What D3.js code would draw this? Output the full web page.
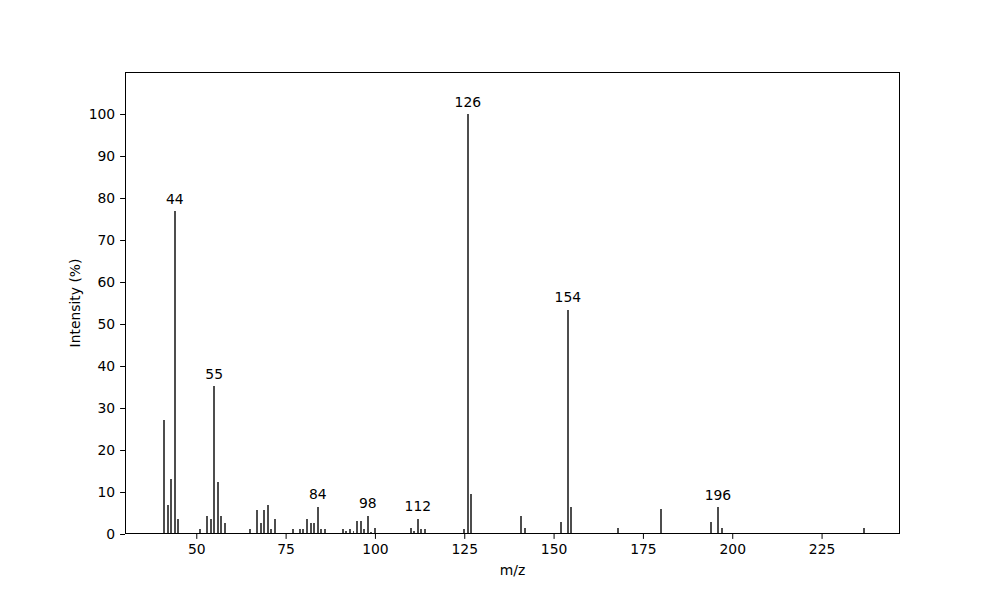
<!DOCTYPE html>
<html>
<head>
<meta charset="utf-8">
<script src="https://cdn.jsdelivr.net/npm/d3@7"></script>
<style>
  body { margin: 0; background: #fff; }
  text { font-family: "DejaVu Sans", sans-serif; }
</style>
</head>
<body>
<div id="chart"></div>
<script>
// peak positions (m/z) and relative intensities (%)
const mzValues = [41, 42, 43, 44, 45, 51, 53, 54, 55, 56, 57, 58, 65, 67, 68, 69, 70, 71, 72,
  77, 79, 80, 81, 82, 83, 84, 85, 86, 91, 92, 93, 94, 95, 96, 97, 98, 99, 100,
  110, 111, 112, 113, 114, 125, 126, 127, 141, 142, 152, 154, 155, 168, 180,
  194, 196, 197, 237];
const intensities = [27.1, 6.9, 13.2, 76.8, 3.6, 1.2, 4.3, 3.6, 35.2, 12.4, 4.3, 2.6, 1.2, 5.7, 2.6, 5.7, 6.9, 1.2, 3.6,
  1.2, 1.2, 1.2, 3.6, 2.7, 2.7, 6.5, 1.2, 1.2, 1.2, 0.7, 1.2, 0.7, 3.1, 3.1, 1.2, 4.3, 0.5, 1.4,
  1.4, 0.7, 3.6, 1.2, 1.2, 1.2, 100, 9.5, 4.3, 1.4, 2.9, 53.4, 6.4, 1.4, 6.0,
  2.9, 6.4, 1.4, 1.4];
// peaks that carry a label
const labelledPeaks = [44, 55, 84, 98, 112, 126, 154, 196];
const xTicks = [50, 75, 100, 125, 150, 175, 200, 225];
const yTicks = [0, 10, 20, 30, 40, 50, 60, 70, 80, 90, 100];

const peaks = mzValues.map((m, i) => ({mz: m, value: intensities[i]}));

const margin = {top: 72, right: 100, bottom: 66, left: 125},
  width = 1000 - margin.left - margin.right,
  height = 600 - margin.top - margin.bottom;

const svg = d3.select("#chart")
  .append("svg")
  .attr("width", 1000)
  .attr("height", 600)
  .append("g")
  .attr("transform", `translate(${margin.left}, ${margin.top})`);

const x = d3.scaleLinear().domain([30.05, 246.95]).range([0, width]);
const y = d3.scaleLinear().domain([0, 110]).range([height, 0]);

const fontSize = "13.9px";
const barWidth = 0.55;

// bars
svg.selectAll("rect.peak")
  .data(peaks)
  .join("rect")
  .attr("class", "peak")
  .attr("x", d => x(d.mz - barWidth / 2))
  .attr("y", d => y(d.value))
  .attr("width", x(barWidth) - x(0))
  .attr("height", d => y(0) - y(d.value))
  .attr("fill", "#4d4d4d")
  .attr("shape-rendering", "crispEdges");

// peak labels
svg.selectAll("text.peak-label")
  .data(peaks.filter(d => labelledPeaks.includes(d.mz)))
  .join("text")
  .attr("class", "peak-label")
  .attr("x", d => x(d.mz))
  .attr("y", d => y(d.value) - 7.5)
  .attr("text-anchor", "middle")
  .style("font-size", fontSize)
  .text(d => d.mz);

// axes
const xAxis = svg.append("g")
  .attr("transform", `translate(0, ${height})`)
  .call(d3.axisBottom(x).tickValues(xTicks).tickSize(4.9).tickPadding(4.9).tickSizeOuter(0));
const yAxis = svg.append("g")
  .call(d3.axisLeft(y).tickValues(yTicks).tickSize(4.9).tickPadding(4.9).tickSizeOuter(0));

[xAxis, yAxis].forEach(a => {
  a.selectAll("text").style("font-size", fontSize).style("font-family", "DejaVu Sans").attr("fill", "#000");
  a.selectAll("line").attr("stroke", "#000").attr("stroke-width", 1);
  a.select(".domain").remove();
});

// frame
svg.append("rect")
  .attr("x", 0.5)
  .attr("y", 0.5)
  .attr("width", width - 1)
  .attr("height", height - 1)
  .attr("fill", "none")
  .attr("stroke", "#000")
  .attr("stroke-width", 1);

// axis titles
svg.append("text")
  .attr("x", width / 2)
  .attr("y", height + 41)
  .attr("text-anchor", "middle")
  .style("font-size", fontSize)
  .text("m/z");

svg.append("text")
  .attr("transform", `translate(${-45}, ${height / 2}) rotate(-90)`)
  .attr("text-anchor", "middle")
  .style("font-size", fontSize)
  .text("Intensity (%)");
</script>
</body>
</html>
